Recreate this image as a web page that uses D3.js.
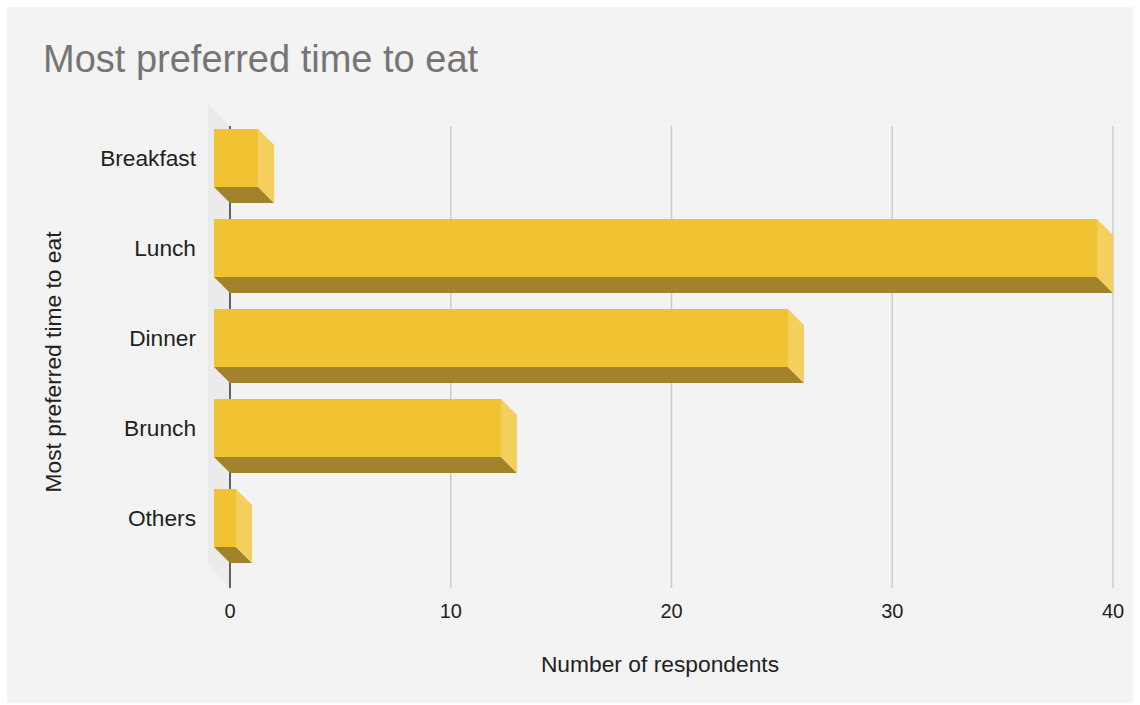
<!DOCTYPE html>
<html>
<head>
<meta charset="utf-8">
<script src="https://cdnjs.cloudflare.com/ajax/libs/d3/7.8.5/d3.min.js"></script>
<style>
html,body{margin:0;padding:0;background:#ffffff;}
svg{display:block;font-family:"Liberation Sans",Arial,sans-serif;}
</style>
</head>
<body>
<svg id="chart" width="1140" height="705"></svg>
<script>
const categories = ["Breakfast", "Lunch", "Dinner", "Brunch", "Others"];
const values = [2, 40, 26, 13, 1];
const tickValues = [0, 10, 20, 30, 40];
const chartTitle = "Most preferred time to eat";
const xTitle = "Number of respondents";
const yTitle = "Most preferred time to eat";

const svg = d3.select("#chart");
const depth = 16;

svg.append("rect").attr("x", 7).attr("y", 7).attr("width", 1126).attr("height", 696).attr("fill", "#f3f3f3");

const x = d3.scaleLinear().domain([0, 40]).range([230, 1113]);
const y = d3.scaleBand().domain(categories).range([129, 579]).paddingInner(32/90).paddingOuter(16/90);
const plotTop = 126, plotBottom = 588;

// left wall
svg.append("polygon")
  .attr("points", [[x(0)-22, plotTop-23],[x(0), plotTop],[x(0), plotBottom],[x(0)-22, plotBottom-23]].map(p=>p.join(",")).join(" "))
  .attr("fill", "#ebebeb");

// gridlines
svg.append("g").selectAll("line").data(tickValues.filter(d=>d!==0)).join("line")
  .attr("x1", d=>x(d)).attr("x2", d=>x(d)).attr("y1", plotTop).attr("y2", plotBottom)
  .attr("stroke", "#cccccc").attr("stroke-width", 1.5);
svg.append("line").attr("x1", x(0)).attr("x2", x(0)).attr("y1", plotTop).attr("y2", plotBottom)
  .attr("stroke", "#333333").attr("stroke-width", 1.5);

// bars
const bars = svg.append("g").selectAll("g").data(categories.map((c,i)=>({c, v: values[i]}))).join("g");
bars.each(function(d){
  const g = d3.select(this);
  const bt = y(d.c), bb = y(d.c) + y.bandwidth();
  const x0 = x(0), x1 = x(d.v);
  const ft = bt - depth, fb = bb - depth, fx0 = x0 - depth, fx1 = x1 - depth;
  g.append("polygon").attr("points", [[fx0,fb],[fx1,fb],[x1,bb],[x0,bb]].map(p=>p.join(",")).join(" ")).attr("fill", "#a2822a");
  g.append("polygon").attr("points", [[fx1,ft],[x1,bt],[x1,bb],[fx1,fb]].map(p=>p.join(",")).join(" ")).attr("fill", "#f4cf5e");
  g.append("rect").attr("x", fx0).attr("y", ft).attr("width", fx1-fx0).attr("height", fb-ft).attr("fill", "#f1c232");
});

// category labels
svg.append("g").selectAll("text").data(categories).join("text")
  .attr("x", 196).attr("y", d=>y(d) + y.bandwidth()/2 - depth)
  .attr("dy", "0.35em").attr("text-anchor", "end")
  .attr("font-size", 22.7).attr("fill", "#222222").text(d=>d);

// tick labels
svg.append("g").selectAll("text").data(tickValues).join("text")
  .attr("x", d=>x(d)).attr("y", 618).attr("text-anchor", "middle")
  .attr("font-size", 20).attr("fill", "#222222").text(d=>d);

// titles
svg.append("text").attr("x", 43).attr("y", 72).attr("font-size", 38).attr("fill", "#757575").text(chartTitle);
svg.append("text").attr("x", 660).attr("y", 672).attr("text-anchor", "middle").attr("font-size", 22.8).attr("fill", "#222222").text(xTitle);
svg.append("text").attr("transform", "translate(61,362) rotate(-90)").attr("text-anchor", "middle").attr("font-size", 22.8).attr("fill", "#222222").text(yTitle);
</script>
</body>
</html>
